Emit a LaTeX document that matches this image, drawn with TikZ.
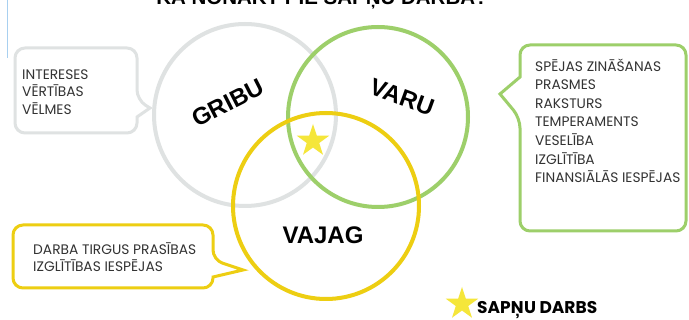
\documentclass[tikz,border=0pt]{standalone}
\usepackage{fontspec}
\setmainfont{Poppins}
\newfontfamily\labfont{Liberation Sans}
\usetikzlibrary{shapes.geometric}
\definecolor{cgray}{HTML}{DFE2E2}
\definecolor{cgreen}{HTML}{9DCF6A}
\definecolor{cyellow}{HTML}{EDCE12}
\definecolor{cstar}{HTML}{F5E63A}
\definecolor{ctext}{HTML}{333333}
\definecolor{cblue}{HTML}{A8D0F0}
\tikzset{
  ring/.style={line width=4pt},
  biglabel/.style={font=\labfont\bfseries\fontsize{24}{24}\selectfont, text=black, inner sep=0pt},
  boxtext/.style={font=\fontsize{13.8}{13.8}\selectfont, text=ctext, anchor=base west, inner sep=0pt},
  callout/.style={line width=3pt, fill=white, rounded corners=10pt},
  starshape/.style={star, star points=5, star point ratio=2.6, fill=cstar, draw=none, inner sep=0pt, minimum size=34pt}
}
\begin{document}
\begin{tikzpicture}[x=1pt,y=-1pt]
\clip (0,0) rectangle (689,320);
\fill[white] (0,0) rectangle (689,320);
% title (cut off at top)
\node[font=\labfont\bfseries\fontsize{20.5}{20.5}\selectfont, anchor=base, inner sep=0pt] (title) at (322,4.5) {KĀ NONĀKT PIE SAPŅU DARBA?};
% thin blue line
\coordinate (b1) at (7,0);
\coordinate (b2) at (7,58);
\draw[cblue, line width=1pt] (b1) -- (b2);
% circles
\node[ring, draw=cgray, circle, minimum size=182pt] (gribu) at (245,115) {};
\node[ring, draw=cgreen, circle, minimum size=180pt] (varu) at (378,117) {};
\node[ring, draw=cyellow, circle, minimum size=186pt] (vajag) at (326,206) {};
\node[biglabel, rotate=27] (lg) at (228,103) {GRIBU};
\node[biglabel, rotate=-20] (lv) at (402,97) {VARU};
\node[biglabel] (lj) at (323,235) {VAJAG};
\node[starshape] (star) at (313,141) {};
% left callout
\draw[callout, draw=cgray] (15,48) -- (137,48) -- (137,100) [sharp corners] -- (150,108) -- (137,117) [rounded corners=10pt] -- (137,133) -- (15,133) -- cycle;
\node[boxtext] (t1) at (22,79.5) {INTERESES};
\node[boxtext] (t2) at (22,97) {VĒRTĪBAS};
\node[boxtext] (t3) at (22,114.5) {VĒLMES};
% right callout
\draw[callout, draw=cgreen] (520,45) -- (686,45) -- (686,231) -- (520,231) -- (520,118) [sharp corners] -- (500,94) -- (520,77) [rounded corners=10pt] -- cycle;
\foreach \t [count=\i from 0] in {SPĒJAS ZINĀŠANAS, PRASMES, RAKSTURS, TEMPERAMENTS, VESELĪBA, IZGLĪTĪBA, FINANSIĀLĀS IESPĒJAS}
  \node[boxtext] (r\i) at (535,71.2+18.6*\i) {\t};
% bottom callout
\draw[callout, draw=cyellow] (13,225) -- (213,225) -- (213,260) [sharp corners] -- (243,270) -- (213,277) [rounded corners=10pt] -- (213,288) -- (13,288) -- cycle;
\node[boxtext] (d1) at (33,254.5) {DARBA TIRGUS PRASĪBAS};
\node[boxtext] (d2) at (33,271.5) {IZGLĪTĪBAS IESPĒJAS};
% legend
\node[starshape] (lstar) at (462,304) {};
\node[font=\bfseries\fontsize{17}{17}\selectfont, text=black, anchor=west, inner sep=0pt] (leg) at (477,310) {SAPŅU DARBS};
\end{tikzpicture}
\end{document}
